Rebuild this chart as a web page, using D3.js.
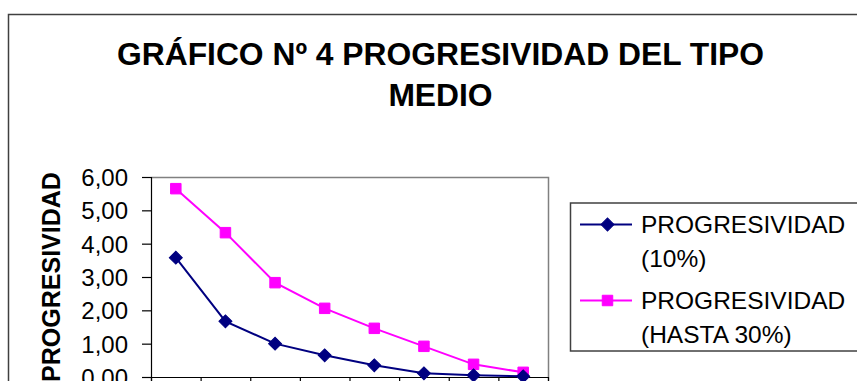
<!DOCTYPE html>
<html>
<head>
<meta charset="utf-8">
<script src="https://cdn.jsdelivr.net/npm/d3@7"></script>
<style>
  html, body { margin: 0; padding: 0; background: #fff; }
  svg { display: block; font-family: "Liberation Sans", Arial, sans-serif; }
</style>
</head>
<body>
<svg id="chart" width="857" height="381"></svg>
<script>
// Tramos (categories) on the horizontal axis
const categories = ["1", "2", "3", "4", "5", "6", "7", "8"];
// Progresividad del tipo medio, 10% scheme
const progresividad10 = [3.58, 1.67, 1.00, 0.65, 0.35, 0.11, 0.05, 0.02];
// Progresividad del tipo medio, scheme up to 30%
const progresividad30 = [5.65, 4.33, 2.83, 2.06, 1.46, 0.92, 0.38, 0.14];
// Y-axis tick values
const yTicks = [0, 1, 2, 3, 4, 5, 6];

const titleLines = ["GRÁFICO Nº 4 PROGRESIVIDAD DEL TIPO", "MEDIO"];
const yTitle = "PROGRESIVIDAD";
const series = [
  { name: ["PROGRESIVIDAD", "(10%)"], values: progresividad10, color: "#000080", marker: "diamond" },
  { name: ["PROGRESIVIDAD", "(HASTA 30%)"], values: progresividad30, color: "#FF00FF", marker: "square" }
];

const svg = d3.select("#chart");

// Outer chart frame
svg.append("rect")
  .attr("x", 8.5).attr("y", 14.5)
  .attr("width", 900).attr("height", 420)
  .attr("fill", "#fff").attr("stroke", "#404040").attr("stroke-width", 1.5);

// Title
svg.append("g").selectAll("text").data(titleLines).join("text")
  .attr("x", 440.5)
  .attr("y", (d, i) => 65 + i * 41)
  .attr("text-anchor", "middle")
  .attr("font-size", 31.8)
  .attr("font-weight", "bold")
  .attr("fill", "#000")
  .text(d => d);

// Plot area
const plot = { left: 151, right: 548, top: 177, bottom: 377 };

const x = d3.scaleLinear().domain([0, categories.length]).range([plot.left, plot.right]);
const y = d3.scaleLinear().domain([0, 6]).range([plot.bottom, plot.top]);
const cx = i => x(i + 0.5);

// Plot area border (top and right)
svg.append("path")
  .attr("d", `M${plot.left},${plot.top + 0.5}H${plot.right + 0.5}V${plot.bottom}`)
  .attr("fill", "none").attr("stroke", "#808080").attr("stroke-width", 1.5);

const fmt = v => d3.format(".2f")(v).replace(".", ",");

// Y axis
const yAxis = svg.append("g")
  .attr("transform", `translate(${plot.left},0)`)
  .call(d3.axisLeft(y).tickValues(yTicks).tickSize(9).tickPadding(14).tickFormat(fmt));
yAxis.selectAll("text").attr("font-size", 24).attr("fill", "#000").attr("font-family", "Liberation Sans, Arial, sans-serif").attr("dy", "0.36em");
yAxis.selectAll("line, path").attr("stroke", "#000").attr("stroke-width", 1.2);

// X axis with ticks between categories
const xAxis = svg.append("g")
  .attr("transform", `translate(0,${plot.bottom})`)
  .call(d3.axisBottom(x).tickValues(d3.range(0, categories.length + 1)).tickSize(9).tickFormat(""));
xAxis.selectAll("line, path").attr("stroke", "#000").attr("stroke-width", 1.2);

// Y-axis title
svg.append("text")
  .attr("transform", `translate(60,${(plot.top + plot.bottom) / 2}) rotate(-90)`)
  .attr("text-anchor", "middle")
  .attr("font-size", 25)
  .attr("font-weight", "bold")
  .attr("fill", "#000")
  .text(yTitle);

function drawMarker(g, type, color) {
  if (type === "diamond") {
    g.append("path")
      .attr("d", d3.symbol(d3.symbolSquare, 84)())
      .attr("transform", "rotate(45)")
      .attr("fill", color).attr("stroke", color).attr("stroke-width", 1);
  } else {
    g.append("path")
      .attr("d", d3.symbol(d3.symbolSquare, 110)())
      .attr("fill", color).attr("stroke", color).attr("stroke-width", 1);
  }
}

const line = d3.line().x((d, i) => cx(i)).y(d => y(d));

// Series lines and markers
series.slice().reverse().forEach(s => {
  svg.append("path")
    .datum(s.values)
    .attr("d", line)
    .attr("fill", "none")
    .attr("stroke", s.color)
    .attr("stroke-width", 2);
  svg.append("g").selectAll("g").data(s.values).join("g")
    .attr("transform", (d, i) => `translate(${cx(i)},${y(d)})`)
    .each(function () { drawMarker(d3.select(this), s.marker, s.color); });
});

// Legend
const legend = svg.append("g");
legend.append("rect")
  .attr("x", 570.5).attr("y", 203)
  .attr("width", 320).attr("height", 148)
  .attr("fill", "#fff").attr("stroke", "#404040").attr("stroke-width", 1.5);

series.forEach((s, k) => {
  const ly = 224.5 + k * 76;
  const g = legend.append("g");
  g.append("line")
    .attr("x1", 580).attr("x2", 632)
    .attr("y1", ly).attr("y2", ly)
    .attr("stroke", s.color).attr("stroke-width", 2);
  const m = g.append("g").attr("transform", `translate(607.5,${ly})`);
  drawMarker(m, s.marker, s.color);
  g.selectAll("text").data(s.name).join("text")
    .attr("x", 641)
    .attr("y", (d, i) => ly + 8 + i * 34.5)
    .attr("font-size", 24.5)
    .attr("fill", "#000")
    .text(d => d);
});
</script>
</body>
</html>
